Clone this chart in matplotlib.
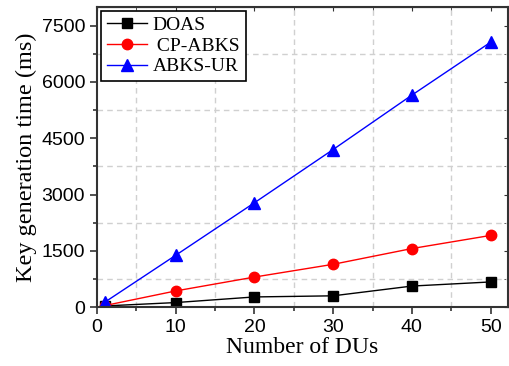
import matplotlib
matplotlib.use("Agg")
import matplotlib.pyplot as plt
from matplotlib.ticker import MultipleLocator

x = [1, 10, 20, 30, 40, 50]
doas = [30, 120, 270, 300, 560, 670]
cp_abks = [40, 430, 800, 1140, 1560, 1910]
abks_ur = [130, 1380, 2780, 4200, 5650, 7060]

fig = plt.figure(figsize=(5.1, 3.66), dpi=100)
ax = fig.add_axes([0.190, 0.161, 0.806, 0.820])

ax.plot(x, doas, color='black', marker='s', markersize=7, lw=1, label='DOAS')
ax.plot(x, cp_abks, color='red', marker='o', markersize=7.5, lw=1, label=' CP-ABKS')
ax.plot(x, abks_ur, color='blue', marker='^', markersize=8.5, lw=1, label='ABKS-UR')

ax.set_xlim(0, 52.2)
ax.set_ylim(0, 8000)
ax.xaxis.set_major_locator(MultipleLocator(10))
ax.xaxis.set_minor_locator(MultipleLocator(5))
ax.yaxis.set_major_locator(MultipleLocator(1500))
ax.yaxis.set_minor_locator(MultipleLocator(750))
ax.grid(True, which='minor', linestyle=(0, (4, 3)), color='#d0d0d0', lw=1)
ax.grid(False, which='major')
ax.set_axisbelow(True)

ax.tick_params(which='both', direction='out', top=False, right=False, labelsize=14, width=1.2, color='#333333')
ax.tick_params(which='major', length=5)
ax.tick_params(which='minor', length=3)
for lab in ax.get_xticklabels() + ax.get_yticklabels():
    lab.set_fontfamily('Liberation Sans')

sec = ax.secondary_xaxis('top')
sec.xaxis.set_major_locator(MultipleLocator(10))
sec.xaxis.set_minor_locator(MultipleLocator(5))
sec.tick_params(which='both', direction='in', labeltop=False, length=3, color='#333333')
secy = ax.secondary_yaxis('right')
secy.yaxis.set_major_locator(MultipleLocator(1500))
secy.yaxis.set_minor_locator(MultipleLocator(750))
secy.tick_params(which='both', direction='in', labelright=False, length=3, color='#333333')

for s in ax.spines.values():
    s.set_linewidth(1.5)
    s.set_color('#333333')

ax.set_xlabel('Number of DUs', fontsize=17, fontfamily='Liberation Serif', labelpad=1)
ax.set_ylabel('Key generation time (ms)', fontsize=17.5, fontfamily='Liberation Serif', labelpad=3)

leg = ax.legend(loc='upper left', prop={'family': 'Liberation Serif', 'size': 14},
                fancybox=False, edgecolor='black', framealpha=1, borderaxespad=0.2,
                handlelength=2.1, handletextpad=0.25, labelspacing=0.15, borderpad=0.3)
leg.get_frame().set_linewidth(1.2)

fig.savefig('out.png', dpi=100)
